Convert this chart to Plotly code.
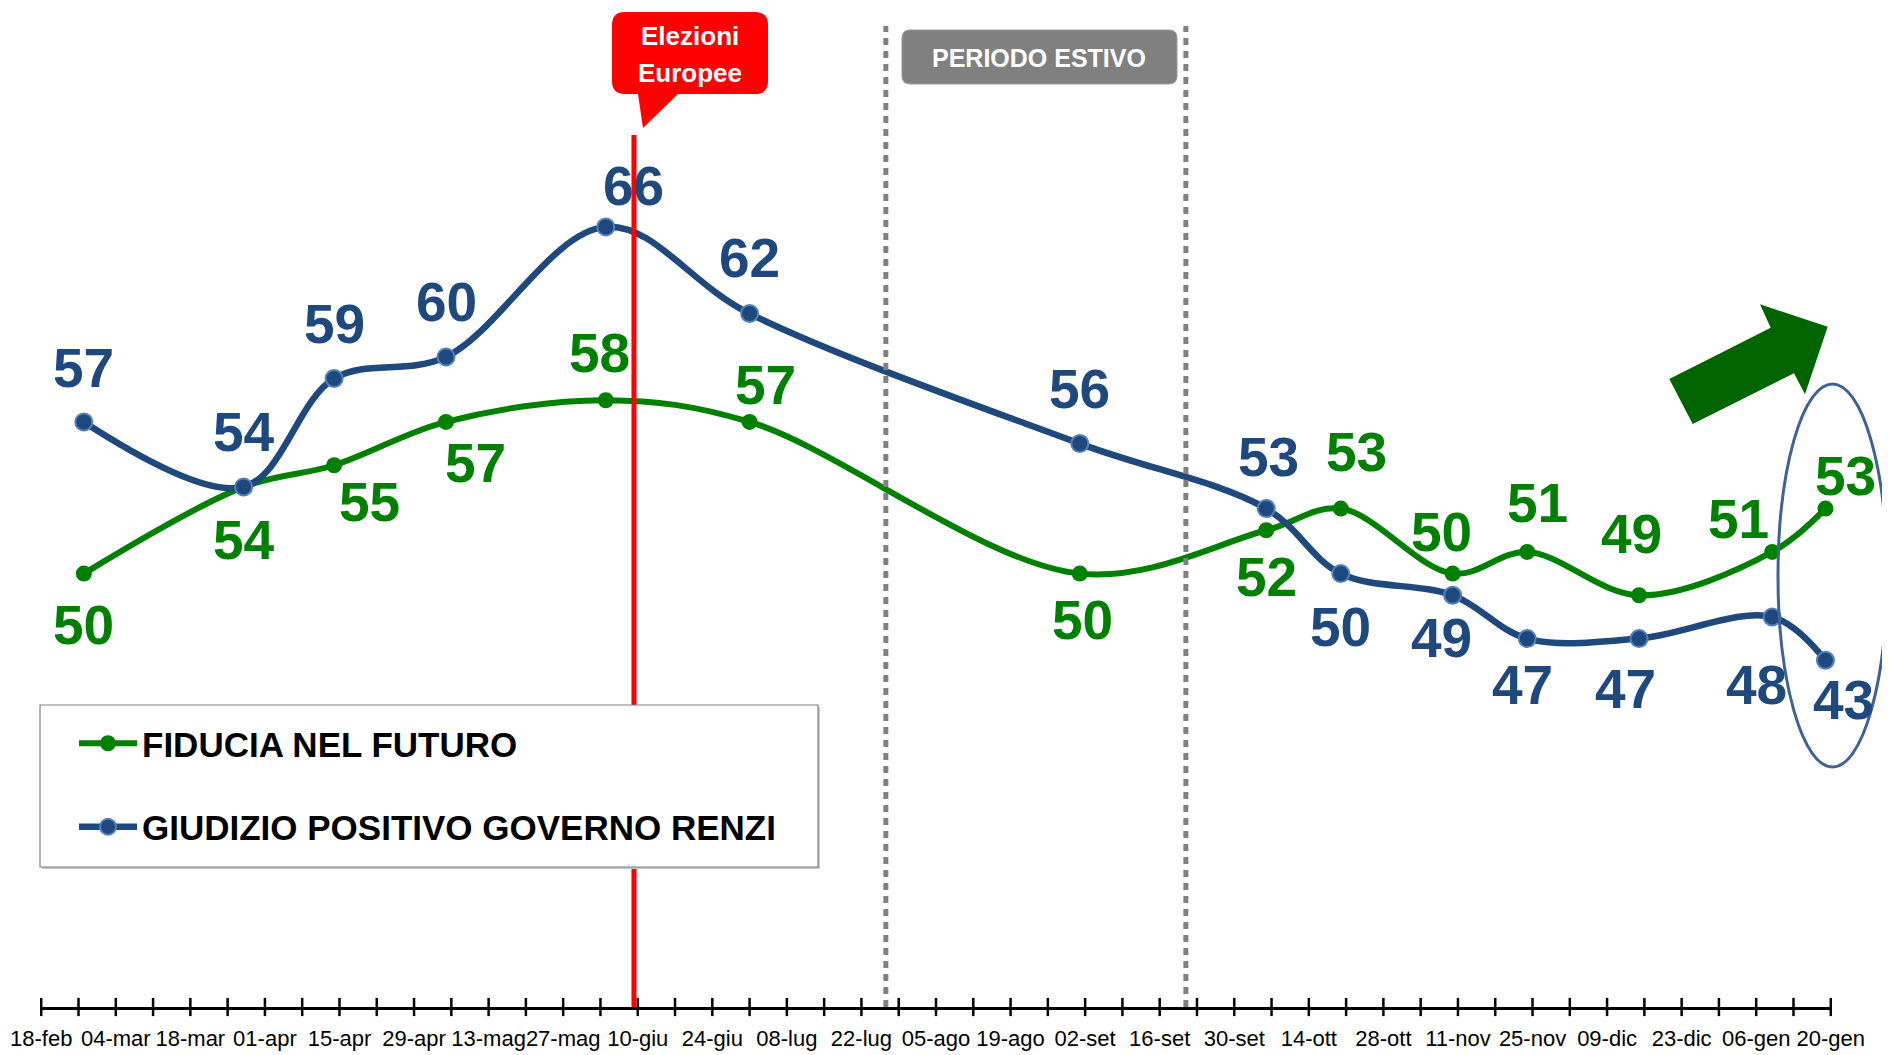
import plotly.graph_objects as go
import pandas as pd

# ---------------- data ----------------
survey_dates = ["2014-02-26", "2014-03-28", "2014-04-14", "2014-05-05", "2014-06-04",
                "2014-07-01", "2014-09-01", "2014-10-06", "2014-10-20", "2014-11-10",
                "2014-11-24", "2014-12-15", "2015-01-09", "2015-01-19"]
fiducia = [50, 54, 55, 57, 58, 57, 50, 52, 53, 50, 51, 49, 51, 53]
# last point is drawn at 46 in the reference picture, but labelled "43"
governo = [57, 54, 59, 60, 66, 62, 56, 53, 50, 49, 47, 47, 48, 46]
fiducia_text = [str(v) for v in fiducia]
governo_text = ["57", "54", "59", "60", "66", "62", "56", "53", "50", "49", "47", "47", "48", "43"]

tick_labels = ["18-feb", "04-mar", "18-mar", "01-apr", "15-apr", "29-apr", "13-mag", "27-mag",
               "10-giu", "24-giu", "08-lug", "22-lug", "05-ago", "19-ago", "02-set", "16-set",
               "30-set", "14-ott", "28-ott", "11-nov", "25-nov", "09-dic", "23-dic", "06-gen",
               "20-gen"]
tick_dates = pd.date_range("2014-02-18", periods=len(tick_labels), freq="14D")
week_dates = pd.date_range("2014-02-18", "2015-01-20", freq="7D")

# ---------------- styles ----------------
GREEN = "#008000"
BLUE = "#1F497D"
BLUE_EDGE = "#4F81BD"
FONT = "Liberation Sans Narrow, Arial Narrow, Liberation Sans, Arial, sans-serif"

# page body has an 8px margin: figure is 8px smaller, coordinates below are page pixels
W, H = 1882, 1047
ML, MR, MT, MB = 33, 59, 2, 48
PW, PH = W - ML - MR, H - MT - MB
REF_L, REF_B = 41, 1007          # plot-area left / bottom in page pixels
Y0 = 30
PX_PER_UNIT = 21.67
Y1 = Y0 + PH / PX_PER_UNIT


def pxx(x):
    return (x - REF_L) / PW


def pxy(y):
    return (REF_B - y) / PH


def px(x, y):
    return f"{pxx(x):.5f},{pxy(y):.5f}"


def yval(ypix):
    return Y0 + (REF_B - ypix) / PX_PER_UNIT


def rounded_rect(x0, y0, x1, y1, r, pointer=None):
    p = f"M{px(x0 + r, y0)} L{px(x1 - r, y0)} Q{px(x1, y0)} {px(x1, y0 + r)} "
    p += f"L{px(x1, y1 - r)} Q{px(x1, y1)} {px(x1 - r, y1)} "
    if pointer:
        for (a, b) in pointer:
            p += f"L{px(a, b)} "
    p += f"L{px(x0 + r, y1)} Q{px(x0, y1)} {px(x0, y1 - r)} "
    p += f"L{px(x0, y0 + r)} Q{px(x0, y0)} {px(x0 + r, y0)} Z"
    return p


fid_dx = [0, 0, 35, 29, -6, 16, 3, 0, 16, -11, 10, -8, -34, 20]
fid_dy = [51, 53, 37, 41, -47, -37, 46, 47, -57, -42, -49, -61, -33, -33]
gov_dx = [0, 0, 0, 0, 28, 0, 0, 2, 0, -11, -5, -14, -16, 18]
gov_dy = [-54, -55, -55, -55, -41, -56, -55, -52, 53, 43, 46, 50, 68, 40]

fig = go.Figure()

fig.add_trace(go.Scatter(
    x=week_dates, y=[Y0] * len(week_dates), mode="markers",
    marker=dict(symbol="line-ns", size=13, line=dict(width=2.5, color="black")),
    showlegend=False, hoverinfo="skip", cliponaxis=False))

fig.add_trace(go.Scatter(
    x=survey_dates, y=fiducia, name="FIDUCIA NEL FUTURO", mode="lines+markers",
    line=dict(color=GREEN, width=6, shape="spline", smoothing=1),
    marker=dict(size=16, color=GREEN), legendgroup="g1", cliponaxis=False, hoverinfo="skip"))

fig.add_trace(go.Scatter(
    x=survey_dates, y=governo, name="GIUDIZIO POSITIVO GOVERNO RENZI", mode="lines+markers",
    line=dict(color=BLUE, width=6.5, shape="spline", smoothing=1),
    marker=dict(size=17, color=BLUE, line=dict(width=2, color=BLUE_EDGE)),
    legendgroup="g2", cliponaxis=False, hoverinfo="skip"))

annotations = []
for d, v, t, dx, dy in zip(survey_dates, fiducia, fiducia_text, fid_dx, fid_dy):
    annotations.append(dict(x=d, y=v, xref="x", yref="y", text=t, showarrow=False,
                            xshift=dx, yshift=-dy,
                            font=dict(family=FONT, size=55, color=GREEN, weight="bold")))
for d, v, t, dx, dy in zip(survey_dates, governo, governo_text, gov_dx, gov_dy):
    annotations.append(dict(x=d, y=v, xref="x", yref="y", text=t, showarrow=False,
                            xshift=dx, yshift=-dy,
                            font=dict(family=FONT, size=55, color=BLUE, weight="bold")))

for txt, yy in (("Elezioni", 36), ("Europee", 73)):
    annotations.append(dict(x=pxx(690), y=pxy(yy), xref="paper", yref="paper",
                            text=txt, showarrow=False, xanchor="center", yanchor="middle",
                            font=dict(family=FONT, size=26, color="white", weight="bold")))
annotations.append(dict(x=pxx(1039), y=pxy(58), xref="paper", yref="paper",
                        text="PERIODO ESTIVO", showarrow=False,
                        xanchor="center", yanchor="middle",
                        font=dict(family=FONT, size=25, color="white", weight="bold")))

RED_X = "2014-06-09 07:00"
DOT_X = ["2014-07-26 14:00", "2014-09-20 22:00"]

shapes = []
for dx_ in DOT_X:
    shapes.append(dict(type="line", xref="x", yref="y", x0=dx_, x1=dx_, y0=Y0, y1=yval(26),
                       line=dict(color="#808080", width=5, dash="7px,6px"), layer="above"))
shapes.append(dict(type="line", xref="x", yref="y", x0=RED_X, x1=RED_X, y0=Y0, y1=yval(135),
                   line=dict(color="#FF0000", width=5), layer="above"))
# legend frame
shapes.append(dict(type="rect", xref="paper", yref="paper", x0=pxx(42), x1=pxx(820),
                   y0=pxy(869), y1=pxy(707), line=dict(width=0), fillcolor="#C8C8C8", layer="above"))
shapes.append(dict(type="rect", xref="paper", yref="paper", x0=pxx(40), x1=pxx(818),
                   y0=pxy(867), y1=pxy(705), line=dict(width=1.2, color="#7F7F7F"),
                   fillcolor="white", layer="above"))
# callout
shapes.append(dict(type="path", xref="paper", yref="paper",
                   path=rounded_rect(612, 12, 768, 94, 13, pointer=[(678, 94), (643, 128), (638, 94)]),
                   fillcolor="#FF0000", line=dict(width=0), layer="above"))
shapes.append(dict(type="path", xref="paper", yref="paper",
                   path=rounded_rect(902, 30, 1177, 84, 8),
                   fillcolor="#808080", line=dict(width=1, color="#9A9A9A"), layer="above"))
# arrow
arrow_pts = [(1692.7, 424), (1669.3, 379), (1770.7, 327.7), (1760, 304.3),
             (1827.7, 326.7), (1805, 394.3), (1794, 373.3)]
shapes.append(dict(type="path", xref="paper", yref="paper",
                   path="M" + " L".join(px(a, b) for a, b in arrow_pts) + " Z",
                   fillcolor="#006400", line=dict(width=0), layer="above"))
# ellipse
shapes.append(dict(type="circle", xref="paper", yref="paper",
                   x0=pxx(1778), x1=pxx(1887), y0=pxy(767), y1=pxy(384),
                   line=dict(color="#3F6290", width=3), layer="above"))

fig.update_layout(
    width=W, height=H,
    margin=dict(l=ML, r=MR, t=MT, b=MB, autoexpand=False),
    paper_bgcolor="white", plot_bgcolor="white",
    hovermode=False,
    showlegend=True,
    legend=dict(x=pxx(74), y=pxy(714), xanchor="left", yanchor="top",
                bgcolor="rgba(0,0,0,0)", borderwidth=0,
                font=dict(family=FONT, size=35, color="black", weight="bold"),
                traceorder="grouped", tracegroupgap=35, itemwidth=58),
    xaxis=dict(type="date", range=["2014-02-17 23:00", "2015-01-20 01:00"],
               showline=True, linecolor="black", linewidth=3,
               tickmode="array", tickvals=tick_dates, ticktext=tick_labels,
               ticks="outside", ticklen=10, tickcolor="rgba(0,0,0,0)", tickangle=0,
               tickfont=dict(family=FONT, size=22, color="black"),
               showgrid=False, zeroline=False, automargin=False),
    yaxis=dict(range=[Y0, Y1], visible=False, showgrid=False, zeroline=False,
               automargin=False),
    shapes=shapes,
    annotations=annotations,
)

fig.write_html("out.html")
